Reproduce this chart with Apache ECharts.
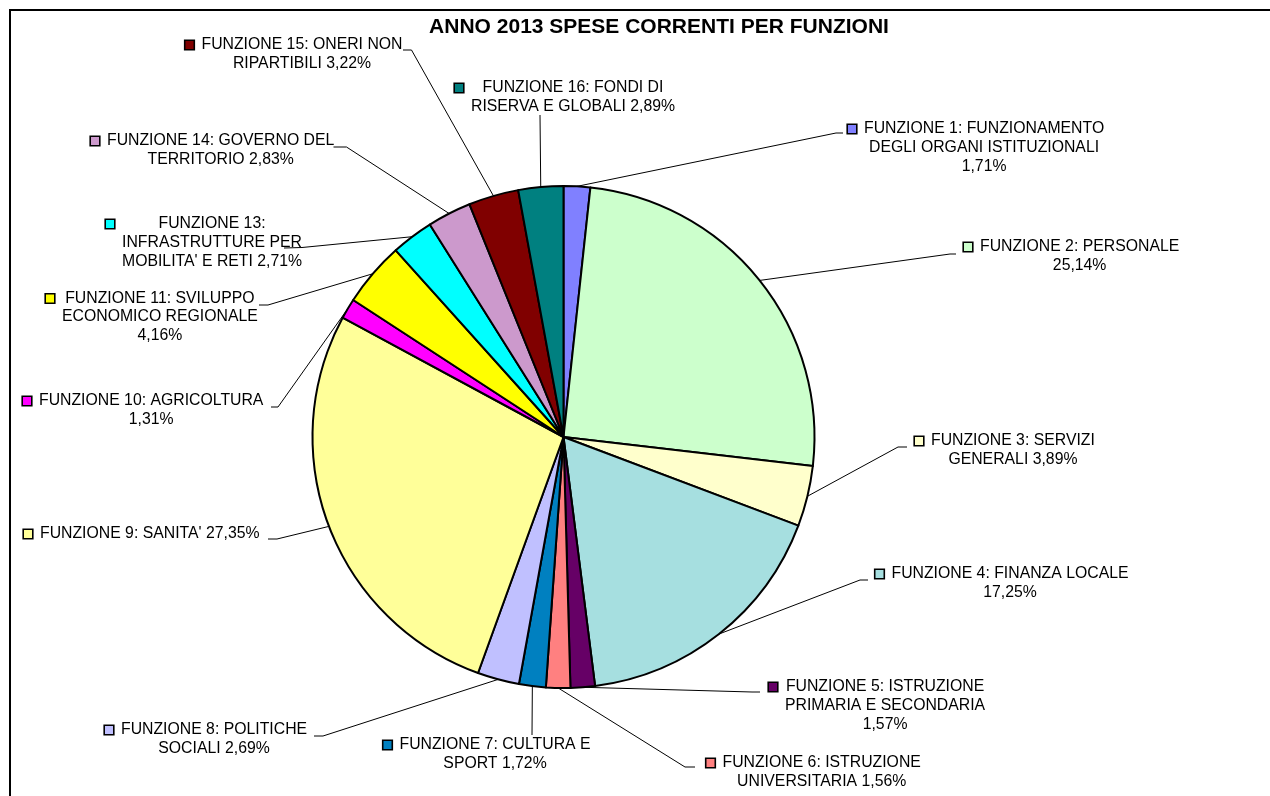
<!DOCTYPE html>
<html>
<head>
<meta charset="utf-8">
<script src="https://cdn.jsdelivr.net/npm/echarts@6/dist/echarts.min.js"></script>
<style>
  html, body { margin: 0; padding: 0; background: #ffffff; overflow: hidden; }
  #chart { width: 1270px; height: 796px; overflow: hidden; }
</style>
</head>
<body>
<div id="chart"></div>
<script>
// Spesa corrente 2013 per funzione (quote percentuali)
const categories = [
  'FUNZIONE 1: FUNZIONAMENTO DEGLI ORGANI ISTITUZIONALI',
  'FUNZIONE 2: PERSONALE',
  'FUNZIONE 3: SERVIZI GENERALI',
  'FUNZIONE 4: FINANZA LOCALE',
  'FUNZIONE 5: ISTRUZIONE PRIMARIA E SECONDARIA',
  'FUNZIONE 6: ISTRUZIONE UNIVERSITARIA',
  'FUNZIONE 7: CULTURA E SPORT',
  'FUNZIONE 8: POLITICHE SOCIALI',
  "FUNZIONE 9: SANITA'",
  'FUNZIONE 10: AGRICOLTURA',
  'FUNZIONE 11: SVILUPPO ECONOMICO REGIONALE',
  "FUNZIONE 13: INFRASTRUTTURE PER MOBILITA' E RETI",
  'FUNZIONE 14: GOVERNO DEL TERRITORIO',
  'FUNZIONE 15: ONERI NON RIPARTIBILI',
  'FUNZIONE 16: FONDI DI RISERVA E GLOBALI'
];
const values = [1.71, 25.14, 3.89, 17.25, 1.57, 1.56, 1.72, 2.69, 27.35, 1.31, 4.16, 2.71, 2.83, 3.22, 2.89];

// Fill colour of each slice (same order as categories)
const sliceColors = [
  '#8080FF', '#CCFFCC', '#FFFFCC', '#A6DFE0', '#660066', '#FF8080', '#0080C0', '#C0C0FF',
  '#FFFF99', '#FF00FF', '#FFFF00', '#00FFFF', '#CC99CC', '#800000', '#008080'
];

// How many words of "name value%" go on each label line
const lineWords = [
  [3, 3, 1], [3, 1], [3, 2], [4, 1], [3, 3, 1], [3, 2], [4, 2], [3, 2],
  [4], [3, 1], [3, 2, 1], [2, 2, 4], [4, 2], [4, 2], [4, 4]
];

// Label placement: [left edge of key square, centre of first text line]
const labelSpots = [
  [848, 129], [964, 247], [915, 441], [875.5, 574], [769, 687], [706.5, 763], [383.5, 745], [105, 730],
  [24, 534], [23, 401], [46, 298.5], [106, 224], [91, 141], [185.5, 45], [455, 88]
];
// Leader lines: bend point and end point next to each label
const leaderBends = [
  [836, 133], [950, 254], [898, 447], [860, 580], [752, 692], [685, 767], [532, 735], [323, 736],
  [277, 539], [278, 407], [268, 305], [302, 247.5], [346.5, 147], [411.5, 50], [540, 115]
];
const leaderEnds = [
  [843, 133], [956, 254], [907, 447], [868, 580], [760, 692], [695, 767], [532, 735], [314, 736],
  [268, 539], [271, 407], [259, 305], [284, 248], [333.5, 147], [403, 50], [540, 115]
];

const PIE_CENTER = [563.5, 437];
const PIE_RADIUS = 251;
const LINE_H = 18.6;
const FONT = "'Liberation Sans', Arial, Helvetica, sans-serif";

function formatPct(v) {
  return v.toFixed(2).replace('.', ',') + '%';
}

function labelText(i) {
  const words = (categories[i] + ' ' + formatPct(values[i])).split(' ');
  const lines = [];
  let k = 0;
  lineWords[i].forEach(function (n) {
    lines.push(words.slice(k, k + n).join(' '));
    k += n;
  });
  return lines.map(function (line, j) {
    return (j === 0 ? '{m' + i + '|}{g|}' : '{s|}') + '{t|' + line + '}';
  }).join('\n');
}

const rich = {
  g: { width: 8, height: 8, lineHeight: LINE_H },
  s: { width: 16, height: 8, lineHeight: LINE_H },
  t: { align: 'center', color: '#000', fontSize: 15.8, fontFamily: FONT, lineHeight: LINE_H }
};
sliceColors.forEach(function (c, i) {
  rich['m' + i] = {
    width: 8, height: 8, lineHeight: LINE_H,
    backgroundColor: c, borderColor: '#000', borderWidth: 1.6
  };
});

// Mid-angle point on the rim, used only if the library does not pass one
const total = values.reduce(function (a, b) { return a + b; }, 0);
function rimPoint(i) {
  let before = 0;
  for (let j = 0; j < i; j++) before += values[j];
  const a = (before + values[i] / 2) / total * 2 * Math.PI;
  return [PIE_CENTER[0] + PIE_RADIUS * Math.sin(a), PIE_CENTER[1] - PIE_RADIUS * Math.cos(a)];
}

const chart = echarts.init(document.getElementById('chart'), null, { renderer: 'canvas' });

chart.setOption({
  animation: false,
  backgroundColor: '#ffffff',
  graphic: [
    // chart frame: only its top and left edges fall inside the page
    {
      type: 'polyline',
      silent: true,
      shape: { points: [[10, 800], [10, 10], [1280, 10]] },
      style: { fill: null, stroke: '#000', lineWidth: 2 }
    },
    {
      type: 'text',
      silent: true,
      x: 659,
      y: 27,
      style: {
        text: 'ANNO 2013 SPESE CORRENTI PER FUNZIONI',
        fill: '#000',
        font: 'bold 21px ' + FONT,
        textAlign: 'center',
        textVerticalAlign: 'middle'
      }
    }
  ],
  series: [
    {
      type: 'pie',
      center: PIE_CENTER,
      radius: PIE_RADIUS,
      startAngle: 90,
      clockwise: true,
      avoidLabelOverlap: false,
      silent: true,
      data: categories.map(function (name, i) {
        return { name: name, value: values[i], itemStyle: { color: sliceColors[i] } };
      }),
      itemStyle: { borderColor: '#000', borderWidth: 2 },
      emphasis: { disabled: true },
      label: {
        show: true,
        position: 'outside',
        color: '#000',
        fontFamily: FONT,
        fontSize: 15.8,
        lineHeight: LINE_H,
        formatter: function (p) { return labelText(p.dataIndex); },
        rich: rich
      },
      labelLine: {
        show: true,
        length: 10,
        length2: 10,
        smooth: false,
        lineStyle: { color: '#000', width: 1 }
      },
      labelLayout: function (p) {
        const i = p.dataIndex;
        const start = (p.labelLinePoints && p.labelLinePoints[0]) ? p.labelLinePoints[0] : rimPoint(i);
        return {
          x: labelSpots[i][0],
          y: labelSpots[i][1] - LINE_H / 2,
          align: 'left',
          verticalAlign: 'top',
          hideOverlap: false,
          labelLinePoints: [start, leaderBends[i], leaderEnds[i]]
        };
      }
    }
  ]
});
</script>
</body>
</html>
